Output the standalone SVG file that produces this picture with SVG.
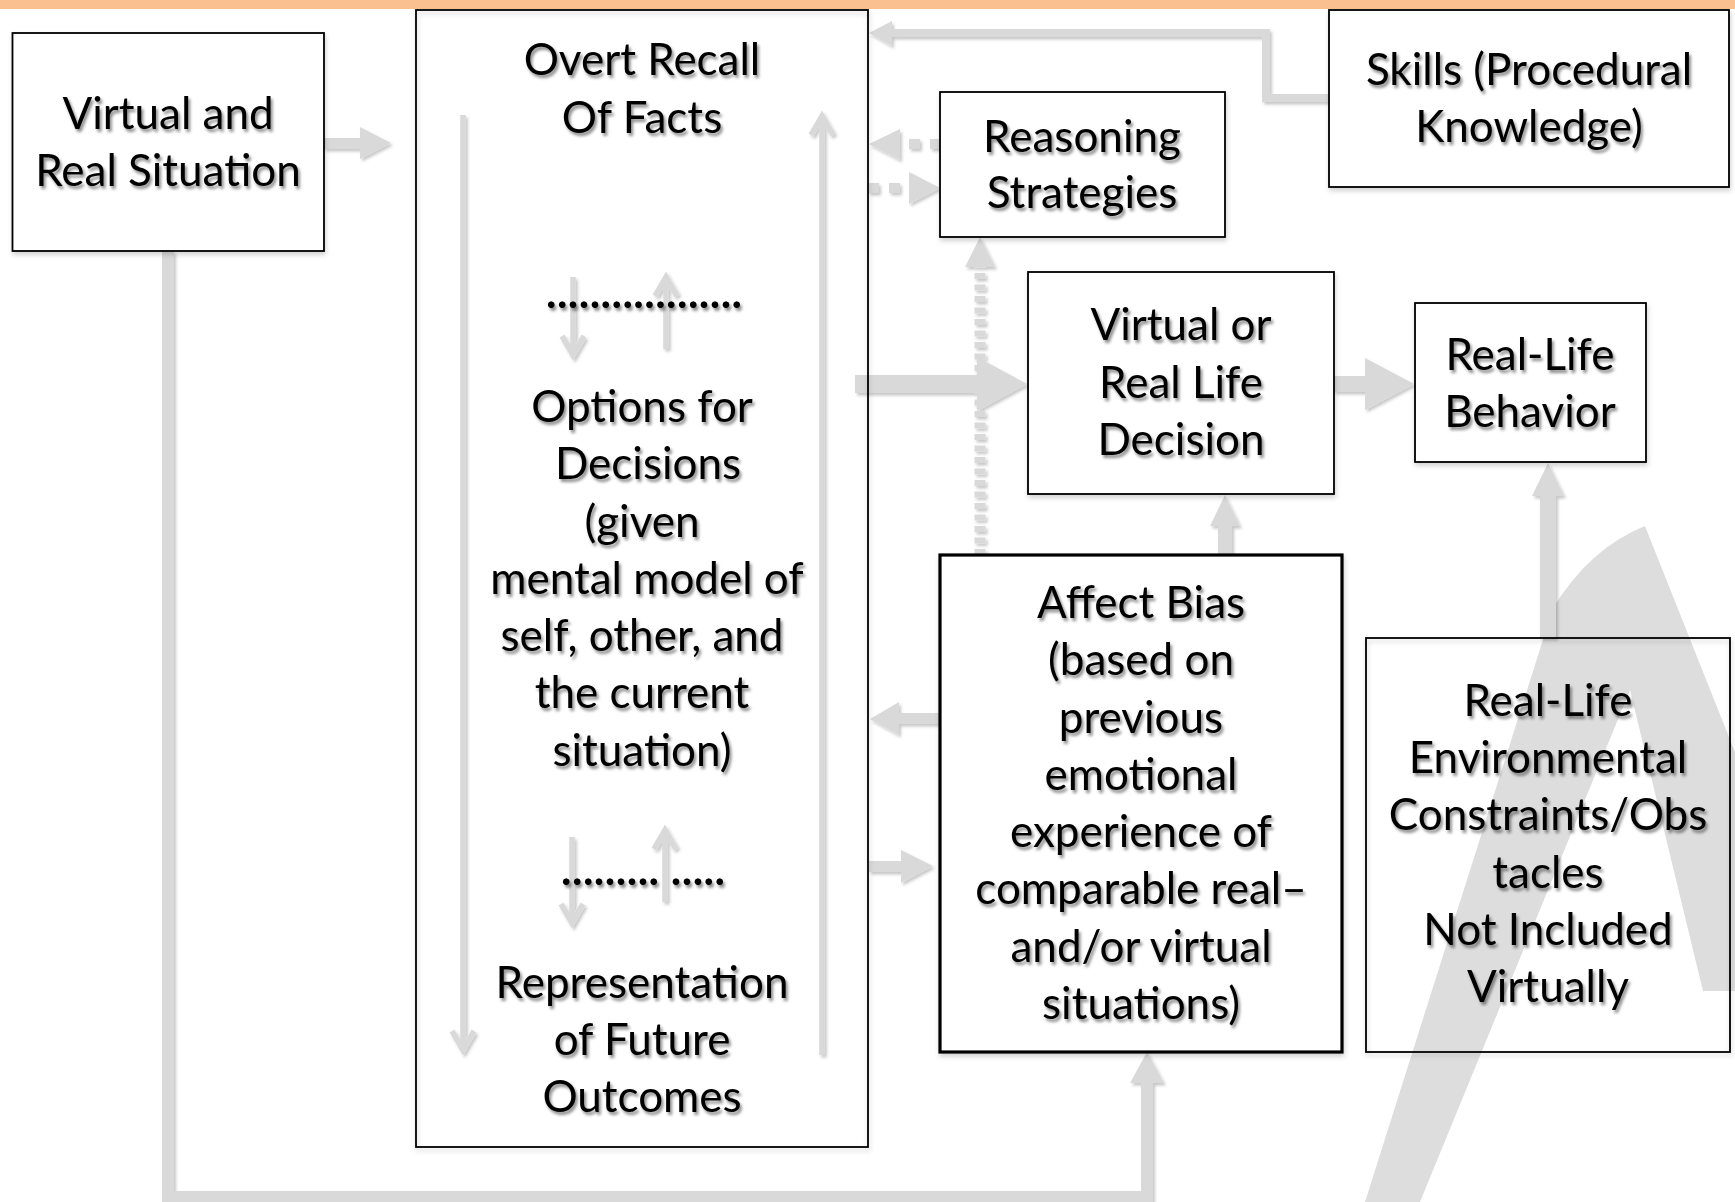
<svg xmlns="http://www.w3.org/2000/svg" width="1735" height="1202" viewBox="0 0 1735 1202">
  <defs>
    <filter id="textShadow" x="-10%" y="-30%" width="125%" height="170%">
      <feDropShadow dx="2" dy="3" stdDeviation="1.6" flood-color="#000" flood-opacity="0.45"/>
    </filter>
    <filter id="arrowShadow" x="-20%" y="-20%" width="150%" height="150%">
      <feDropShadow dx="2" dy="2.5" stdDeviation="1.6" flood-color="#000" flood-opacity="0.22"/>
    </filter>
    <filter id="boxShadow" x="-5%" y="-5%" width="115%" height="115%">
      <feDropShadow dx="1" dy="3" stdDeviation="2.5" flood-color="#000" flood-opacity="0.18"/>
    </filter>
    <style>
      .box { fill: #fff; stroke: #000; stroke-width: 1.8; filter: url(#boxShadow); }
      .box-open { fill: none; stroke: #000; stroke-width: 1.8; filter: url(#boxShadow); }
      .box-heavy { fill: #fff; stroke: #000; stroke-width: 3.2; filter: url(#boxShadow); }
      .lbl { font-family: Lato, "Open Sans", "Liberation Sans", sans-serif; font-size: 44px; fill: #000; text-anchor: middle; filter: url(#textShadow); }
      .dots { font-family: Lato, "Liberation Sans", sans-serif; font-size: 44px; font-weight: bold; fill: #000; filter: url(#textShadow); }
      .blk { fill: #d9d9d9; stroke: none; }
      .bar { fill: none; stroke: #d9d9d9; stroke-linejoin: miter; }
      .thin { fill: none; stroke: #d9d9d9; stroke-width: 5.5; stroke-linejoin: miter; stroke-linecap: butt; }
    </style>
  </defs>

  <rect x="0" y="0" width="1735" height="1202" fill="#fff"/>
  <!-- header band -->
  <rect x="0" y="0" width="1735" height="9" fill="#fac08f"/>

  <!-- watermark logo -->
  <path id="logo" fill="#dddddd" d="M1645,526 Q1590,548 1553,608 L1365,1202 L1420,1202 L1630,690 L1703,991 L1830,991 Z"/>

  <!-- connectors (drawn beneath the boxes and labels) -->
  <g id="connectors" filter="url(#arrowShadow)">
    <!-- situation -> recall -->
    <polygon class="blk" points="324,138 360,138 360,127 391,143 360,159 360,149 324,149"/>
    <!-- situation -> affect (around the bottom) -->
    <path class="bar" stroke-width="12" d="M168,251 V1197 H1147 V1082"/>
    <polygon class="blk" points="1130,1083 1147,1052 1164,1083"/>
    <!-- skills -> recall -->
    <path class="bar" stroke-width="8" d="M1329,98 H1266 V33 H890"/>
    <polygon class="blk" points="892,21 869,33 892,46"/>
    <!-- reasoning <-> recall (dashed) -->
    <line class="bar" stroke-width="10" stroke-dasharray="11 10" x1="941" y1="144" x2="899" y2="144"/>
    <polygon class="blk" points="900,129 869,144 900,160"/>
    <line class="bar" stroke-width="10" stroke-dasharray="11 10" x1="868" y1="188" x2="909" y2="188"/>
    <polygon class="blk" points="909,172 940,188 909,204"/>
    <!-- affect -> reasoning (dotted) -->
    <line class="bar" stroke-width="11" stroke-dasharray="6 5.5" x1="980" y1="555" x2="980" y2="266"/>
    <polygon class="blk" points="965,267 980,237 995,267"/>
    <!-- recall -> decision -->
    <polygon class="blk" points="855,375 977,375 977,357 1027,384 977,411 977,393 855,393"/>
    <!-- decision -> behavior -->
    <polygon class="blk" points="1334,376 1365,376 1365,358 1414,384 1365,410 1365,392 1334,392"/>
    <!-- affect -> decision -->
    <polygon class="blk" points="1218,555 1218,526 1210,526 1225,495 1240,526 1232,526 1232,555"/>
    <!-- constraints -> behavior -->
    <polygon class="blk" points="1540,638 1540,496 1532,496 1548,463 1564,496 1556,496 1556,638"/>
    <!-- affect -> recall -->
    <polygon class="blk" points="940,713 899,713 899,702 870,719 899,735 899,724 940,724"/>
    <!-- recall -> affect -->
    <polygon class="blk" points="869,861 901,861 901,850 933,866 901,883 901,872 869,872"/>
    <!-- internal flow in the recall column -->
    <path class="thin" d="M463,115 V1049"/>
    <path class="thin" d="M452,1031 L463,1050 L474,1031"/>
    <path class="thin" d="M822,1055 V118"/>
    <path class="thin" d="M811,135 L822,116 L833,135"/>
    <path class="thin" d="M573,277 V353"/>
    <path class="thin" d="M562,336 L573,355 L584,336"/>
    <path class="thin" d="M666,349 V280"/>
    <path class="thin" d="M655,296 L666,277 L677,296"/>
    <path class="thin" d="M572,837 V921"/>
    <path class="thin" d="M561,904 L572,923 L583,904"/>
    <path class="thin" d="M665,902 V833"/>
    <path class="thin" d="M654,849 L665,830 L676,849"/>
  </g>

  <!-- nodes -->
  <g id="node-situation">
    <rect class="box" x="12.5" y="33" width="311.5" height="218"/>
    <text class="lbl" x="168" y="129">Virtual and</text>
    <text class="lbl" x="168" y="186">Real Situation</text>
  </g>

  <g id="node-recall">
    <rect class="box-open" x="416" y="10" width="452" height="1137"/>
    <text class="lbl" x="642" y="75">Overt Recall</text>
    <text class="lbl" x="642" y="133">Of Facts</text>
    <text class="dots" x="546" y="308" textLength="196" lengthAdjust="spacing">..................</text>
    <text class="lbl" x="642" y="422">Options for</text>
    <text class="lbl" x="648" y="479">Decisions</text>
    <text class="lbl" x="642" y="537">(given</text>
    <text class="lbl" x="647" y="594">mental model of</text>
    <text class="lbl" x="642" y="651">self, other, and</text>
    <text class="lbl" x="642" y="708">the current</text>
    <text class="lbl" x="642" y="766">situation)</text>
    <text class="dots" x="561" y="885" textLength="164" lengthAdjust="spacing">......... .....</text>
    <text class="lbl" x="642" y="998">Representation</text>
    <text class="lbl" x="642" y="1055">of Future</text>
    <text class="lbl" x="642" y="1112">Outcomes</text>
  </g>

  <g id="node-reasoning">
    <rect class="box" x="940" y="92" width="285" height="145"/>
    <text class="lbl" x="1082" y="152">Reasoning</text>
    <text class="lbl" x="1082" y="208">Strategies</text>
  </g>

  <g id="node-skills">
    <rect class="box" x="1329" y="10" width="400" height="177"/>
    <text class="lbl" x="1529" y="85">Skills (Procedural</text>
    <text class="lbl" x="1529" y="142">Knowledge)</text>
  </g>

  <g id="node-decision">
    <rect class="box" x="1028" y="272" width="306" height="222"/>
    <text class="lbl" x="1181" y="340">Virtual or</text>
    <text class="lbl" x="1181" y="398">Real Life</text>
    <text class="lbl" x="1181" y="455">Decision</text>
  </g>

  <g id="node-behavior">
    <rect class="box" x="1415" y="303" width="231" height="159"/>
    <text class="lbl" x="1530" y="370">Real-Life</text>
    <text class="lbl" x="1530" y="427">Behavior</text>
  </g>

  <g id="node-affect">
    <rect class="box-heavy" x="940" y="555" width="402" height="497"/>
    <text class="lbl" x="1141" y="618">Affect Bias</text>
    <text class="lbl" x="1141" y="675">(based on</text>
    <text class="lbl" x="1141" y="733">previous</text>
    <text class="lbl" x="1141" y="790">emotional</text>
    <text class="lbl" x="1141" y="847">experience of</text>
    <text class="lbl" x="1141" y="904">comparable real–</text>
    <text class="lbl" x="1141" y="962">and/or virtual</text>
    <text class="lbl" x="1141" y="1019">situations)</text>
  </g>

  <g id="node-constraints">
    <rect class="box-open" x="1366" y="638" width="364" height="414"/>
    <text class="lbl" x="1548" y="716">Real-Life</text>
    <text class="lbl" x="1548" y="773">Environmental</text>
    <text class="lbl" x="1548" y="830">Constraints/Obs</text>
    <text class="lbl" x="1548" y="888">tacles</text>
    <text class="lbl" x="1548" y="945">Not Included</text>
    <text class="lbl" x="1548" y="1002">Virtually</text>
  </g>
</svg>
